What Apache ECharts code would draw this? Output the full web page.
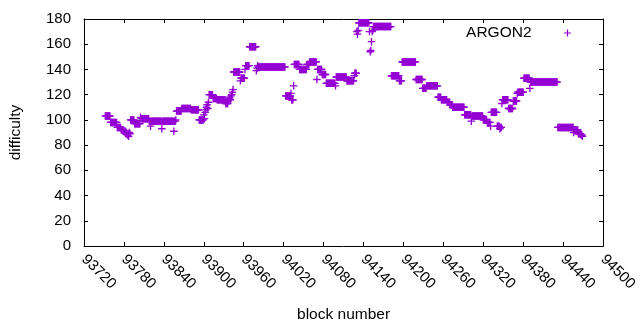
<!DOCTYPE html>
<html><head><meta charset="utf-8">
<script src="https://cdn.jsdelivr.net/npm/echarts@6/dist/echarts.min.js"></script>
<style>html,body{margin:0;padding:0;background:#fff}#c{width:640px;height:330px}</style>
</head><body><div id="c"></div>
<script>
// Each segment: first block number, then one difficulty value per consecutive block
const segmentStartBlocks = [93752, 93818, 93859, 93900, 93945, 93969, 94023, 94055, 94084,
  94130, 94155, 94198, 94252, 94292, 94332, 94372, 94391, 94432];
const segmentDifficulty = [
 [103,103,103,103,103,103,103,103, 98,98,98,98,98,98,98,98,98,98, 94,94,94,94,94,94, 92,92,92,92,
  91,91,91, 89,90,88,89,87,90,89, 100,100,100,100,100,100, 97,97,97,97,97,97,97,97,97, 102,
  101,101,101,101,101,101,101,101,101,101,101,101],
 [99,99, 95, 99,99,99,99,99,99,99,99,99,99,99,99,99,99,99,99, 93,
  99,99,99,99,99,99,99,99,99,99,99,99,99,99,99,99,99, 91, 99,99, 100],
 [107,107,107,107,107,107,107,107, 109,109,109,109,109,109,109,109,109,109,109,109,109,109,
  108,108,108,108,108,108,108,108,108,108,108,108, 100,100,100,100,100,100,100],
 [104,101,106,108,110,112,109,114, 120,120,120,120,120,120, 117,117,117,117,117,117,
  116,116,116,116,116,116,116,116,116,116,116,116,116, 113,113,113,113, 115,117,118,116,119,120,122,124],
 [138,138,138,138,138,138,138,138,138,138, 131, 133,133,133,133,133,133, 140, 143,143,143,143,143,143],
 [158,158,158,158,158,158,158,158,158,158, 139,141,143,
  142,142,142,142,142,142,142,142,142,142, 142,142,142,142,142,142,142,142,142,142,
  142,142,142,142,142,142,142,142,142,142, 142,142,142,142,142,142,142,142,142,142, 142],
 [119,119,119,119,119,119,119,119, 121, 116,116,116, 127, 144,144,144,144,144,144,144,144,
  140,140,140,140,140,140,140,140,140,140,140],
 [144,144,144,144, 146,146,146,146,146,146,146,146,146,146,146, 132, 140,140,140,140,140,140,140,
  136,136,136,136,136,136],
 [129,129,129,129,129,129,129,129,129,129,129,129,129,129, 127,
  134,134,134,134,134,134,134,134,134,134,134,134,134,134,134,134,
  131,131,131,131,131,131,131,131,131,131,131, 135, 137,137,137],
 [170,168,171, 177,177,177,177,177,177,177,177,177,177,177,177,177,177,177,177, 170,154,155,162,170,171],
 [174,174,174,174,174,174,174,174,174,174, 174,174,174,174,174,174,174,174,174,174, 174,174,174,174,174,174,174,
  135,135,135,135,135,135,135,135,135,135,135,135, 131,131,131,131],
 [146,146,146,146,146,146,146,146,146,146, 146,146,146,146,146,146,146,146,146,146,146,
  132,132,132,132,132,132,132,132,132,132, 125,125,125,125,125,125,
  127,127,127,127,127,127,127,127,127,127,127,127,127,127,127,127,127],
 [118,118,118,118,118, 116,116,116,116,116,116,116,116,116, 114,114,114,114, 112,112,112,112,
  110,110,110,110,110,110,110,110,110,110,110,110,110,110,110,110,110,110],
 [104,104,104,104,104,104,104,104,104,104, 99,
  103,103,103,103,103,103,103,103,103,103,103,103,103,103,103,103,103,
  100,100,100,100,100,100, 98,98,98,98,98, 95],
 [106,106,106,106,106,106,106,106,106, 95,95,95,95, 93, 94,94, 113,
  116,116,116,116,116,116,116,116,116, 109,109,109,109,109,109,109, 115,115,115,115,115,115, 121],
 [122,122,122,122,122,122,122,122,122, 133,133,133,133,133,133,133,133,133, 125],
 [130,130,130,130,130,130,130,130,130,130, 130,130,130,130,130,130,130,130,130,130,
  130,130,130,130,130,130,130,130,130,130, 130,130,130,130,130,130,130,130,130,130, 130],
 [94,94,94,94,94,94,94,94,94,94,94,94, 94,94,94,94,94,94,94,94,94,94,94,94, 90,
  92,92,92,92,92,92, 89,89,89,89, 88,88,87]
];
const seriesName = 'ARGON2';
const xMin = 93720, xMax = 94500, xStep = 60;
const yMin = 0, yMax = 180, yStep = 20;
const xTitle = 'block number';
const yTitle = 'difficulty';

const points = [];
segmentDifficulty.forEach((vals, s) => vals.forEach((v, i) => points.push([segmentStartBlocks[s] + i, v])));

const color = '#9400d3';
const plus = 'path://M0,3.7h9v1.6h-9z M3.7,0h1.6v9h-1.6z';
const font = 'Liberation Sans';

const chart = echarts.init(document.getElementById('c'), null, {renderer: 'canvas'});
const baseX = {type: 'value', min: xMin, max: xMax, interval: xStep, splitLine: {show: false},
  axisLine: {show: true, onZero: false, lineStyle: {color: '#000', width: 1}},
  axisTick: {show: true, inside: true, length: 4, lineStyle: {color: '#000'}}};
const baseY = {type: 'value', min: yMin, max: yMax, interval: yStep, splitLine: {show: false},
  axisLine: {show: true, onZero: false, lineStyle: {color: '#000', width: 1}},
  axisTick: {show: true, inside: true, length: 4, lineStyle: {color: '#000'}}};
chart.setOption({
  animation: false,
  backgroundColor: '#fff',
  textStyle: {fontFamily: font},
  grid: {left: 84, right: 31, top: 19, bottom: 84, containLabel: false, show: false},
  legend: {
    data: [seriesName], right: 64, top: 20, align: 'right', itemWidth: 62, itemHeight: 7,
    icon: plus, selectedMode: false,
    textStyle: {fontFamily: font, fontSize: 15.5, color: '#000'}
  },
  xAxis: [
    Object.assign({}, baseX, {position: 'bottom', name: xTitle, nameLocation: 'middle', nameGap: 61,
      nameTextStyle: {fontFamily: font, fontSize: 15.5, color: '#000'},
      axisLabel: {rotate: -45, margin: 11, fontFamily: font, fontSize: 15, color: '#000',
        showMinLabel: true, showMaxLabel: true, formatter: v => String(v)}}),
    Object.assign({}, baseX, {position: 'top', axisLabel: {show: false}})
  ],
  yAxis: [
    Object.assign({}, baseY, {position: 'left', name: yTitle, nameLocation: 'middle', nameGap: 60,
      nameTextStyle: {fontFamily: font, fontSize: 15.5, color: '#000'},
      axisLabel: {margin: 13, fontFamily: font, fontSize: 15, color: '#000'}}),
    Object.assign({}, baseY, {position: 'right', axisLabel: {show: false}})
  ],
  series: [{
    name: seriesName, type: 'scatter', data: points, symbol: plus, symbolSize: 7.5,
    symbolKeepAspect: true, itemStyle: {color: color, opacity: 1}
  }]
});
</script></body></html>
